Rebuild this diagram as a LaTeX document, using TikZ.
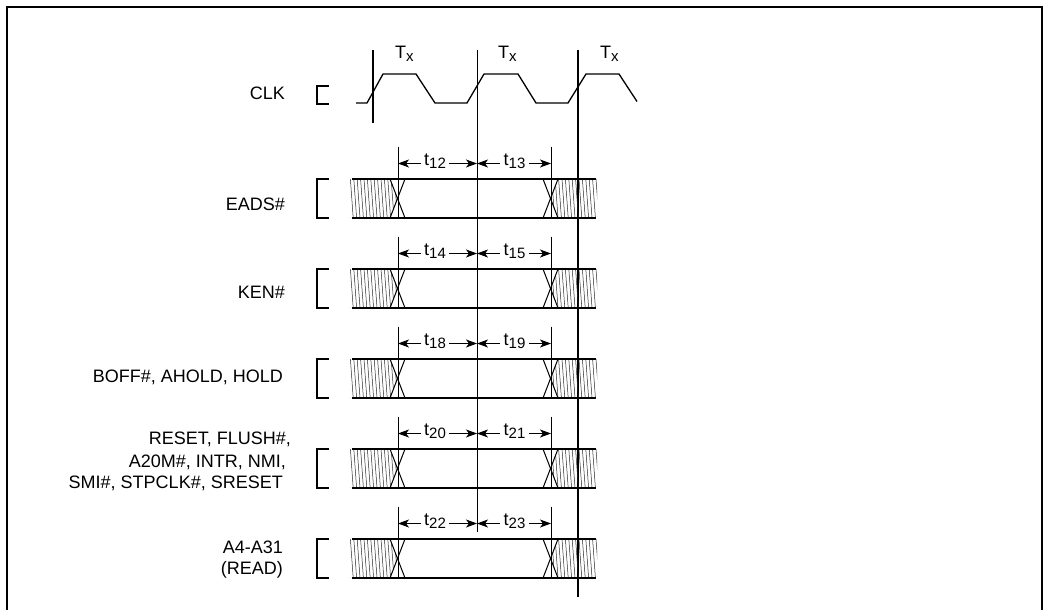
\documentclass[tikz,border=0pt]{standalone}
\usepackage{fontspec}
\setmainfont{Liberation Sans}
\usetikzlibrary{arrows.meta}
\tikzset{
  frameline/.style={line width=2pt},
  busline/.style={line width=2pt},
  bracketline/.style={line width=2pt, line join=miter},
  thickmark/.style={line width=2pt},
  thinmark/.style={line width=1pt},
  clkline/.style={line width=1.3pt, line join=round},
  xline/.style={line width=1pt},
  hatchline/.style={line width=0.5pt, black!85},
  dimarrow/.style={line width=1pt, -{Stealth[length=11pt,width=8pt,inset=3pt]}},
  lbl/.style={inner sep=0pt, anchor=base east, font=\fontsize{18}{22}\selectfont},
  tlbl/.style={inner sep=0pt, anchor=base, font=\fontsize{18}{22}\selectfont},
  Tlbl/.style={inner sep=0pt, anchor=base west, font=\fontsize{18}{22}\selectfont},
}
\newcommand{\subs}[1]{\raisebox{-3pt}{\fontsize{15}{15}\selectfont #1}}
\begin{document}
\begin{tikzpicture}[x=1pt,y=-1pt]
\useasboundingbox (0,0) rectangle (1050,610);
% frame
\draw[frameline] (7,615) -- (7,7) -- (1042,7) -- (1042,615);

% clock
\node[lbl] (clk) at (285,99.5) {CLK};
\draw[bracketline] (329,86) -- (317,86) -- (317,104) -- (329,104);
\draw[clkline] (356,103) -- (367,103) -- (383,74) -- (416,74) -- (435,103) -- (467,103)
  -- (484,74) -- (518,74) -- (536,103) -- (568,103) -- (586,74) -- (619,74) -- (637,101.5);
\node[Tlbl] (tx1) at (395,58.3) {T\subs{x}};
\node[Tlbl] (tx2) at (498,58.3) {T\subs{x}};
\node[Tlbl] (tx3) at (600,58.3) {T\subs{x}};

% reference verticals
\coordinate (l1a) at (373,50); \coordinate (l1b) at (373,123);
\coordinate (l2a) at (477,50); \coordinate (l2b) at (477,532);
\coordinate (l3a) at (578,50); \coordinate (l3b) at (578,597);
\draw[thickmark] (l1a) -- (l1b);
\draw[thinmark] (l2a) -- (l2b);
\draw[thickmark] (l3a) -- (l3b);

% signal rows
\foreach \yt/\a/\b in {179/12/13, 269/14/15, 359/18/19, 449/20/21, 539/22/23} {
  \pgfmathsetmacro\yb{\yt+39}
  \pgfmathsetmacro\ym{\yt+19.5}
  \pgfmathsetmacro\ya{\yt-15.5}
  \pgfmathsetmacro\yk{\yt-32.5}
  \pgfmathsetmacro\yl{\yt-13.5}
  % hatch left
  \begin{scope}
    \clip (350,\yt) -- (390,\yt) -- (397.5,\ym) -- (390,\yb) -- (350,\yb) -- cycle;
    \foreach \h in {347,350.4,...,402} \draw[hatchline] (\h,\yt) -- (\h+2.8,\yb);
  \end{scope}
  % hatch right
  \begin{scope}
    \clip (558,\yt) -- (597,\yt) -- (597,\yb) -- (558,\yb) -- (550.5,\ym) -- cycle;
    \foreach \h in {545,548.4,...,600} \draw[hatchline] (\h,\yt) -- (\h+2.8,\yb);
  \end{scope}
  % crossings
  \draw[xline] (390,\yt) -- (405,\yb);
  \draw[xline] (405,\yt) -- (390,\yb);
  \draw[xline] (543,\yt) -- (558,\yb);
  \draw[xline] (558,\yt) -- (543,\yb);
  % bus lines
  \draw[busline] (352,\yt) -- (596,\yt);
  \draw[busline] (352,\yb) -- (596,\yb);
  % bracket
  \draw[bracketline] (329,\yt) -- (317,\yt) -- (317,\yb) -- (329,\yb);
  % ticks
  \coordinate (ta) at (398,\yk); \coordinate (tb) at (398,\yb);
  \coordinate (tc) at (551,\yk); \coordinate (td) at (551,\yb);
  \draw[thinmark] (ta) -- (tb);
  \draw[thinmark] (tc) -- (td);
  % dimension labels and arrows
  \node[tlbl] (ts\a) at (435,\yl) {t\subs{\a}};
  \node[tlbl] (ts\b) at (514.5,\yl) {t\subs{\b}};
  \draw[dimarrow] (421,\ya) -- (398,\ya);
  \draw[dimarrow] (449,\ya) -- (477,\ya);
  \draw[dimarrow] (500,\ya) -- (477,\ya);
  \draw[dimarrow] (529,\ya) -- (551,\ya);
}

% labels
\node[lbl] (eads) at (285,210) {EADS\#};
\node[lbl] (ken) at (285,298) {KEN\#};
\node[lbl] (boff) at (283,382.7) {BOFF\#, AHOLD, HOLD};
\node[lbl] (rst1) at (291,444.5) {RESET, FLUSH\#,};
\node[lbl] (rst2) at (286,467.5) {A20M\#, INTR, NMI,};
\node[lbl] (rst3) at (283,488.5) {SMI\#, STPCLK\#, SRESET};
\node[lbl] (a4a) at (283,553.3) {A4-A31};
\node[lbl] (a4b) at (283,574.5) {(READ)};
\end{tikzpicture}
\end{document}
